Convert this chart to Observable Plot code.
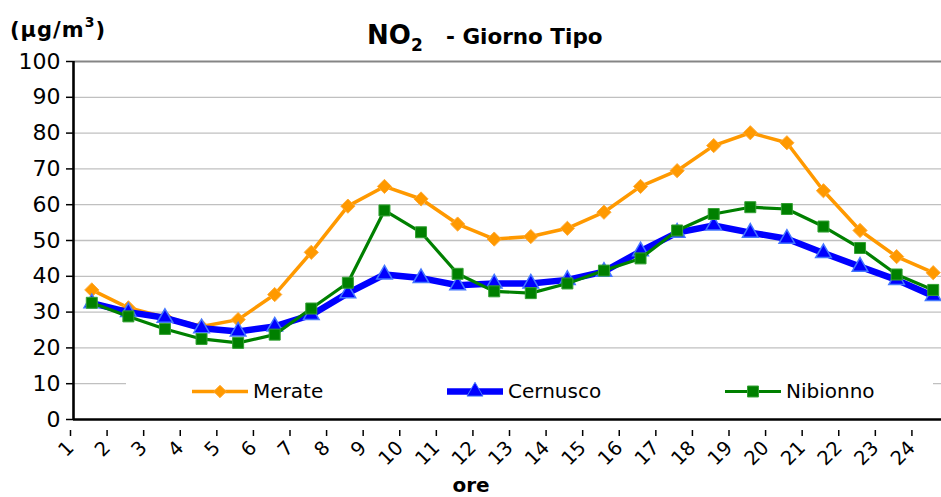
<!DOCTYPE html>
<html>
<head>
<meta charset="utf-8">
<script src="https://cdn.jsdelivr.net/npm/d3@7"></script>
<script src="https://cdn.jsdelivr.net/npm/@observablehq/plot@0.6"></script>
<style>
  html, body { margin: 0; padding: 0; background: #fff; overflow: hidden; }
  #chart { position: relative; width: 941px; height: 497px; overflow: hidden; }
</style>
</head>
<body>
<div id="chart"></div>
<script>
// ---- data ----
const hours = [1,2,3,4,5,6,7,8,9,10,11,12,13,14,15,16,17,18,19,20,21,22,23,24];
const merate   = [36.2,31.2,28.6,26.0,27.9,34.9,46.7,59.6,65.1,61.6,54.6,50.4,51.1,53.4,57.9,65.1,69.5,76.5,80.1,77.3,63.9,52.8,45.5,41.0];
const cernusco = [32.5,30.0,28.4,25.5,24.6,26.0,29.2,35.3,40.5,39.5,37.5,38.0,38.0,39.0,41.3,47.0,52.2,54.2,52.2,50.5,46.5,42.7,39.0,34.5];
const nibionno = [32.6,28.8,25.3,22.5,21.4,23.7,31.0,38.2,58.4,52.3,40.7,35.8,35.3,38.0,41.6,45.0,52.8,57.4,59.3,58.8,53.9,47.9,40.5,36.2];
const yTicks = [0,10,20,30,40,50,60,70,80,90,100];
const seriesNames = ["Merate","Cernusco","Nibionno"];
const seriesColors = ["#FF9900","#0000FF","#008000"];

const rows = (vals) => hours.map((h, i) => ({h, v: vals[i]}));
const dM = rows(merate), dC = rows(cernusco), dN = rows(nibionno);
const xPos = d => d.h + 0.5; // values plotted between hour ticks

const plot = Plot.plot({
  width: 941,
  height: 497,
  marginLeft: 73,
  marginRight: 0,
  marginTop: 61,
  marginBottom: 78,
  x: {domain: [1, 25], range: [73, 951], label: null},
  y: {domain: [0, 100], range: [419, 61], label: null},
  style: {fontFamily: "DejaVu Sans, Verdana, sans-serif", color: "#000", background: "#fff", overflow: "hidden"},
  marks: [
    Plot.ruleY(yTicks.filter(t => t > 0 && t < 100), {stroke: "#c0c0c0", strokeWidth: 1.3}),
    Plot.ruleY([100], {stroke: "#858585", strokeWidth: 2.2}),
    Plot.axisY({ticks: yTicks, tickSize: 7, tickPadding: 6, fontSize: 22, strokeWidth: 1.5, label: null}),
    Plot.axisX({ticks: hours, tickFormat: d => String(d), tickRotate: -45, tickSize: 6, tickPadding: 8, dx: -3, dy: 11, fontSize: 19.5, strokeWidth: 1.5, label: null}),
    // Merate
    Plot.line(dM, {x: xPos, y: "v", stroke: seriesColors[0], strokeWidth: 3.5}),
    Plot.dot(dM, {x: xPos, y: "v", symbol: "diamond2", r: 6.4, fill: seriesColors[0], stroke: "#FFAA33", strokeWidth: 1}),
    // Cernusco
    Plot.line(dC, {x: xPos, y: "v", stroke: seriesColors[1], strokeWidth: 6.5}),
    Plot.dot(dC, {x: xPos, y: "v", symbol: "triangle", r: 5.8, fill: seriesColors[1], stroke: "#4477FF", strokeWidth: 1.5}),
    // Nibionno
    Plot.line(dN, {x: xPos, y: "v", stroke: seriesColors[2], strokeWidth: 3.2}),
    Plot.dot(dN, {x: xPos, y: "v", symbol: "square", r: 6.2, fill: seriesColors[2], stroke: "#33A033", strokeWidth: 1}),
    // axes lines
    Plot.ruleX([1], {stroke: "#000", strokeWidth: 2.6}),
    Plot.ruleY([0], {stroke: "#000", strokeWidth: 2.6})
  ]
});
document.getElementById("chart").appendChild(plot);

// ---- titles and legend (overlay) ----
const svg = d3.select(plot);
const font = "DejaVu Sans, Verdana, sans-serif";

// title
const title = svg.append("text").attr("x", 367).attr("y", 44).attr("text-anchor", "start")
  .attr("font-family", font).attr("font-weight", "bold").attr("fill", "#000");
title.append("tspan").attr("font-size", 26).text("NO");
title.append("tspan").attr("font-size", 17).attr("dy", 7).text("2");
svg.append("text").attr("x", 446).attr("y", 44).attr("text-anchor", "start")
  .attr("font-family", font).attr("font-weight", "bold").attr("font-size", 21.5)
  .attr("fill", "#000").text("- Giorno Tipo");

// unit label
const unit = svg.append("text").attr("x", 10).attr("y", 37).attr("text-anchor", "start")
  .attr("font-family", font).attr("font-weight", "bold").attr("font-size", 21)
  .attr("letter-spacing", 1).attr("fill", "#000");
unit.append("tspan").text("(\u03BCg/m");
unit.append("tspan").attr("font-size", 14).attr("dy", -10).text("3");
unit.append("tspan").attr("dy", 10).text(")");

// x axis title
svg.append("text").attr("x", 471).attr("y", 492).attr("text-anchor", "middle")
  .attr("font-family", font).attr("font-weight", "bold").attr("font-size", 20)
  .attr("fill", "#000").text("ore");

// legend box
const lg = svg.append("g");
lg.append("rect").attr("x", 126).attr("y", 373).attr("width", 807).attr("height", 37).attr("fill", "#fff");
const legendItems = [
  {name: seriesNames[0], color: seriesColors[0], x0: 192, sym: d3.symbolDiamond2, size: 100, sw: 3.5, stroke: "#FFAA33"},
  {name: seriesNames[1], color: seriesColors[1], x0: 447, sym: d3.symbolTriangle, size: 110, sw: 6.5, stroke: "#4477FF"},
  {name: seriesNames[2], color: seriesColors[2], x0: 725, sym: d3.symbolSquare, size: 120, sw: 3.2, stroke: "#33A033"}
];
const ly = 391.5;
legendItems.forEach(it => {
  lg.append("line").attr("x1", it.x0).attr("x2", it.x0 + 56).attr("y1", ly).attr("y2", ly)
    .attr("stroke", it.color).attr("stroke-width", it.sw);
  lg.append("path").attr("d", d3.symbol(it.sym, it.size)())
    .attr("transform", `translate(${it.x0 + 28},${ly})`)
    .attr("fill", it.color).attr("stroke", it.stroke).attr("stroke-width", 1);
  lg.append("text").attr("x", it.x0 + 61).attr("y", 398).attr("text-anchor", "start")
    .attr("font-family", font).attr("font-size", 20).attr("fill", "#000").text(it.name);
});
</script>
</body>
</html>
